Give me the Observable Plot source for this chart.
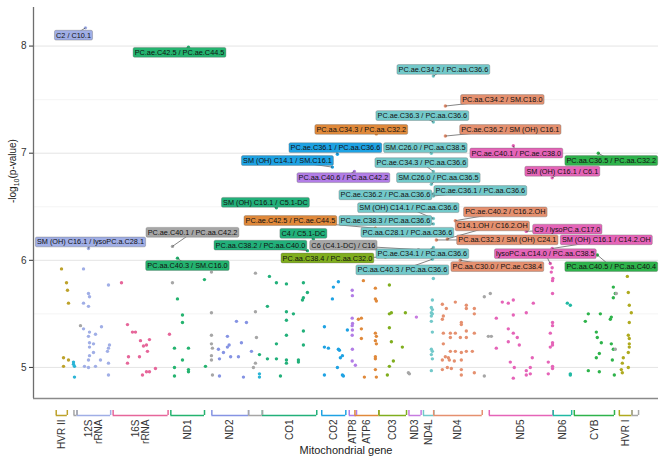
<!DOCTYPE html>
<html><head><meta charset="utf-8">
<script src="https://cdn.jsdelivr.net/npm/d3@7"></script>
<script src="https://cdn.jsdelivr.net/npm/@observablehq/plot@0.6"></script>
<style>body{margin:0;background:#fff} svg{display:block;font-family:"Liberation Sans",Arial,sans-serif}</style>
</head><body><div id="chart"></div>
<script>
// ---- gene map (mitochondrial position) ----
const geneKeys   = ["HVR II","12S","16S","ND1","ND2","CO1","CO2","ATP8","ATP6","CO3","ND3","ND4L","ND4","ND5","ND6","CYB","HVR I"];
const geneLabels = ["HVR II","12S\nrRNA","16S\nrRNA","ND1","ND2","CO1","CO2","ATP8","ATP6","CO3","ND3","ND4L","ND4","ND5","ND6","CYB","HVR I"];
const geneStart  = [57,648,1671,3307,4470,5904,7586,8366,8527,9207,10059,10470,10760,12337,14149,14747,16024];
const geneEnd    = [372,1601,3229,4262,5511,7445,8269,8572,9207,9990,10404,10766,12137,14148,14673,15887,16383];
const otherStart = [560,5512,16384];
const otherEnd   = [647,5903,16569];

// ---- colour categories ----
const colorKeys = ["HVR II","tRNA-F","12S","16S","ND1","ND2","CO1","CO2","ATP8","ATP6","CO3","ND3","ND4L","ND4","ND5","ND6","CYB","HVR I","other"];
const colorVals = ["#BDA22B","#2BB4D6","#A0AEE6","#E6669A","#24B36F","#8593E3","#22B07A","#1EA2E3","#B27DE6","#E0893A","#80AE1E","#C77CE0","#73C9CA","#E5906F","#E564B8","#21B9A3","#2EB34B","#AFAA1F","#A6A6A6"];

// ---- points [position, -log10 p] ----
const hvr2Pts = [[207,5.92],[349,5.79],[377,5.72],[405,5.60],[264,5.09],[405,5.07],[264,5.01]];
const trnaFPts = [[547,5.05],[547,5.03],[575,5.01],[575,4.91],[5820,4.94],[5820,4.91]];
const s12Pts = [[831,5.92],[972,5.69],[1001,5.66],[1539,5.77],[831,5.60],[972,5.57],[831,5.36],[1001,5.33],[972,5.29],[1171,5.31],[1341,5.38],[1001,5.23],[1114,5.22],[1001,5.19],[1114,5.14],[1001,5.11],[1312,5.07],[972,5.07],[859,5.01],[972,5.00],[1171,5.01],[1511,5.15],[1539,5.18],[1567,5.21],[1539,5.04],[1539,4.93]];
const s16Pts = [[1908,5.79],[2078,5.40],[2219,5.33],[2304,5.33],[2446,5.25],[2701,5.26],[2616,5.21],[2531,5.20],[2645,5.15],[2106,5.10],[2418,5.10],[2078,5.04],[2616,4.96],[2701,4.96],[2503,4.93],[2871,4.99],[3268,5.31]];
const nd1Pts = [[4260,5.82],[3495,5.64],[3637,5.49],[3637,5.42],[3410,5.18],[3807,5.18],[3637,5.07],[3410,5.00],[3807,4.98],[3807,4.96],[3410,4.92],[4289,5.01]];
const nd2Pts = [[4912,5.29],[4657,5.17],[4799,5.14],[4912,5.19],[4960,5.21],[5003,5.10],[5224,5.10],[5309,5.23],[5168,5.43],[5451,5.42],[5593,5.15],[4686,5.08],[4686,4.92],[5366,4.91]];
const co1Pts = [[6103,5.85],[6301,5.79],[6585,5.78],[7066,5.79],[7180,5.70],[7066,5.65],[7040,5.63],[6046,5.57],[6585,5.52],[6783,5.50],[6585,5.44],[7066,5.34],[6585,5.30],[6301,5.22],[7066,5.21],[5820,5.12],[6046,5.08],[6301,5.08],[6585,5.07],[6585,5.04],[6925,5.07],[6925,5.05],[6415,4.92]];
const co2Pts = [[7917,5.75],[7888,5.64],[8058,5.80],[7662,5.38],[7662,5.19],[7775,5.18],[8058,5.17],[7662,4.93],[8030,5.00],[8313,5.35],[8087,5.16],[8172,5.11],[8115,5.09],[8172,4.93],[8200,4.92]];
const atp8Pts = [[8450,5.72],[8455,5.67],[8450,5.46],[8460,5.41],[8450,5.39],[8455,5.35],[8450,5.30],[8455,5.17],[8450,5.06],[8540,5.02]];
const atp6Pts = [[8767,5.81],[9107,5.74],[9107,5.64],[9135,5.62],[8625,5.45],[8710,5.46],[8710,5.36],[8710,5.27],[9107,5.32],[9135,5.29],[9107,5.25],[9135,5.22],[9107,5.10],[9107,5.08],[9107,4.98],[8795,4.91],[9135,4.91]];
const co3Pts = [[9504,5.77],[9504,5.50],[9561,5.51],[9504,5.37],[9561,5.24],[9872,5.19],[9617,5.06],[9504,5.01],[9447,4.93],[9958,5.51]];
const nd3Pts = [[10270,5.47]];
const nd4lPts = [[10751,5.83],[10723,5.63],[10694,5.56],[10723,5.54],[10694,5.51],[10723,5.50],[10694,5.48],[10694,5.43],[10723,5.33],[10694,5.17],[10723,5.15],[10694,5.12],[10723,5.08],[10694,4.97]];
const nd4Pts = [[11006,5.59],[11119,5.55],[11034,5.48],[11006,5.45],[11374,5.61],[11686,5.58],[11686,5.55],[11913,5.55],[11913,5.50],[11544,5.42],[11544,5.40],[11034,5.32],[11233,5.32],[11374,5.32],[11686,5.34],[11913,5.32],[11034,5.22],[11233,5.28],[11516,5.28],[11686,5.28],[11544,5.14],[11233,5.15],[11374,5.15],[11686,5.15],[11856,5.15],[11091,5.10],[11176,5.09],[11204,5.07],[11346,5.06],[11544,5.07],[11006,5.07],[11147,5.00],[11006,4.98],[11261,4.99],[11544,4.98],[11544,4.93],[11913,4.95]];
const nd5Pts = [[12706,5.61],[12876,5.60],[13018,5.63],[13585,5.60],[12536,5.46],[13018,5.49],[13386,5.51],[12876,5.36],[13018,5.32],[12876,5.24],[13131,5.28],[13188,5.21],[12536,5.18],[12933,5.05],[13046,5.00],[13018,4.90],[13386,4.97],[13500,5.00],[13556,5.09],[13386,4.93],[13500,4.94],[14067,5.19],[14130,5.23],[14130,5.21],[14130,5.42],[14130,5.39],[14130,5.69],[14067,5.32],[14010,5.05],[14130,5.01],[14130,4.99],[14010,4.94],[14130,5.81],[14120,5.93],[14095,5.89],[14140,5.83]];
const nd6Pts = [[14550,5.60],[14635,5.58],[14635,4.94],[14635,4.93]];
const cybPts = [[15145,5.50],[15486,5.50],[15060,5.43],[15372,5.33],[15400,5.28],[15514,5.23],[15457,5.13],[15372,5.09],[15145,4.97],[15457,4.96],[15826,5.07],[15769,5.45],[15797,5.47],[15854,5.65],[15854,5.75],[15797,5.22],[15882,4.93],[15854,5.17],[15910,5.69]];
const hvr1Pts = [[16251,5.85],[16279,5.70],[16307,5.58],[16364,5.51],[16307,5.42],[16279,5.30],[16307,5.27],[16307,5.22],[16307,5.19],[16279,5.14],[16137,5.09],[16109,5.04],[16279,5.00],[16081,4.98],[16109,4.95]];
const otherPts = [[745,5.39],[3353,5.79],[4459,5.89],[4459,5.51],[4459,5.30],[4459,5.22],[4487,5.18],[4459,5.11],[4459,5.07],[4487,4.93],[5706,5.88],[5706,5.52],[5735,5.28],[5706,5.04],[5649,5.00],[10043,4.95],[10072,4.94],[12196,5.66],[12366,5.69],[12196,4.92],[12310,5.29],[12395,5.29],[15939,5.69],[15910,5.17]];

// ---- labelled associations ----
const labelText = ["C2 / C10.1","PC.ae.C42.5 / PC.ae.C44.5","PC.ae.C34.2 / PC.aa.C36.6","PC.aa.C34.2 / SM.C18.0","PC.ae.C36.3 / PC.aa.C36.6","PC.aa.C34.3 / PC.aa.C32.2","PC.ae.C36.2 / SM (OH) C16.1","PC.ae.C36.1 / PC.aa.C36.6","SM.C26.0 / PC.aa.C38.5","PC.ae.C40.1 / PC.ae.C38.0","PC.aa.C36.5 / PC.aa.C32.2","SM (OH) C14.1 / SM.C16.1","PC.ae.C34.3 / PC.aa.C36.6","SM (OH) C16.1 / C6.1","PC.aa.C40.6 / PC.aa.C42.2","SM.C26.0 / PC.aa.C36.5","PC.ae.C36.2 / PC.aa.C36.6","PC.ae.C36.1 / PC.aa.C36.6","SM (OH) C16.1 / C5.1-DC","SM (OH) C14.1 / PC.aa.C36.6","PC.ae.C40.2 / C16.2.OH","PC.ae.C42.5 / PC.ae.C44.5","PC.ae.C38.3 / PC.aa.C36.6","PC.aa.C28.1 / PC.aa.C36.6","C14.1.OH / C16.2.OH","C9 / lysoPC.a.C17.0","C4 / C5.1-DC","PC.ae.C40.1 / PC.aa.C42.2","SM (OH) C16.1 / lysoPC.a.C28.1","PC.aa.C38.2 / PC.aa.C40.0","C6 (C4.1-DC) / C16","PC.aa.C32.3 / SM (OH) C24.1","SM (OH) C16.1 / C14.2.OH","PC.ae.C34.1 / PC.aa.C36.6","lysoPC.a.C14.0 / PC.aa.C38.5","PC.aa.C38.4 / PC.aa.C32.0","PC.aa.C40.3 / SM.C16.0","PC.aa.C40.5 / PC.aa.C40.4","PC.aa.C30.0 / PC.ae.C38.4","PC.aa.C40.3 / PC.aa.C36.6"];
const labelGene = ["12S","ND1","ND4L","ND4","ND4L","ATP6","ND4","CO2","ND4L","ND5","CYB","CO2","ND4L","ND5","ATP8","ND4L","ND4L","ND4L","CO1","ND4L","ND4","ATP6","ND4L","ND4L","ND4","ND5","CO1","other","12S","CO1","other","ND4","ND5","ND4L","ND5","CO3","ND1","CYB","ND4","ND4L"];
const labelPos  = [887,3807,10751,11091,10751,9134,11091,8030,10694,13018,15428,7888,10751,14120,8512,10694,10751,10751,6301,10751,11374,9107,10751,10751,11147,13386,7350,3353,972,7180,10327,10836,14120,10751,14067,9390,3495,15400,11516,10723];
const labelP    = [8.17,7.99,7.72,7.44,7.29,7.18,7.16,6.99,7.00,7.07,7.00,6.87,6.83,6.77,6.83,6.71,6.62,6.60,6.49,6.39,6.37,6.30,6.34,6.28,6.20,6.27,6.20,6.13,6.11,6.09,6.10,6.19,6.11,6.12,5.97,6.03,6.02,6.05,6.00,6.01];
const labelX    = [547,3553,11035,12707,10439,8707,12934,7973,10524,13104,15796,6613,10411,14408,8200,10893,9391,12083,5989,10042,12792,6698,9391,10014,12423,14550,7066,3920,1029,5847,8200,12849,15655,10439,13926,7747,3778,15796,12565,9872];
const labelY    = [8.10,7.94,7.78,7.50,7.35,7.22,7.22,7.05,7.05,7.00,6.93,6.93,6.91,6.83,6.77,6.77,6.61,6.65,6.54,6.49,6.45,6.37,6.37,6.26,6.32,6.29,6.25,6.26,6.17,6.14,6.14,6.19,6.19,6.06,6.06,6.02,5.95,5.94,5.94,5.91];

// ---- tables ----
const ptsByGene = {"HVR II":hvr2Pts,"tRNA-F":trnaFPts,"12S":s12Pts,"16S":s16Pts,"ND1":nd1Pts,"ND2":nd2Pts,"CO1":co1Pts,"CO2":co2Pts,"ATP8":atp8Pts,"ATP6":atp6Pts,"CO3":co3Pts,"ND3":nd3Pts,"ND4L":nd4lPts,"ND4":nd4Pts,"ND5":nd5Pts,"ND6":nd6Pts,"CYB":cybPts,"HVR I":hvr1Pts,"other":otherPts};
const points = Object.entries(ptsByGene).flatMap(([g, arr]) => arr.map(([pos, p]) => ({gene: g, pos, p})));
const labels = labelText.map((t, i) => ({text: t, gene: labelGene[i], pos: labelPos[i], p: labelP[i], lx: labelX[i], ly: labelY[i]}));
const genes = geneKeys.map((k, i) => ({key: k, label: geneLabels[i], start: geneStart[i], end: geneEnd[i]}))
  .concat(otherStart.map((s, i) => ({key: "other", label: "", start: s, end: otherEnd[i]})));
const geneEnds = genes.flatMap(g => [{key: g.key, x: g.start}, {key: g.key, x: g.end}]);

const xDomain = [-587, 17135], yDomain = [4.71, 8.36];
const mt = 7, mb = 66, H = 464;
const u = (yDomain[1] - yDomain[0]) / (H - mt - mb); // data units per pixel
const barY = yDomain[0] - 17 * u, tickTop = yDomain[0] - 12 * u;
const colorOf = g => colorVals[colorKeys.indexOf(g)];

const chart = Plot.plot({
  width: 666, height: H,
  marginTop: mt, marginBottom: mb, marginLeft: 33, marginRight: 8,
  style: {fontFamily: '"Liberation Sans", Arial, sans-serif', background: "#fff"},
  x: {domain: xDomain, axis: null},
  y: {domain: yDomain},
  color: {domain: colorKeys, range: colorVals},
  marks: [
    Plot.ruleY([5.5, 6.5, 7.5], {stroke: "#f1f1f1", strokeWidth: 0.8}),
    Plot.ruleY([5, 6, 7, 8], {stroke: "#e4e4e4", strokeWidth: 1}),
    Plot.ruleX([xDomain[0]], {stroke: "#6e6e6e", strokeWidth: 1.3}),
    Plot.ruleY([yDomain[0]], {stroke: "#8a8a8a", strokeWidth: 1.3}),
    Plot.axisY({ticks: [5, 6, 7, 8], tickFormat: d => String(d), tickSize: 4, tickPadding: 3, fontSize: 10, label: null, stroke: "#333", fill: "#333"}),
    Plot.dot(points, {x: "pos", y: "p", fill: "gene", r: 1.7}),
    Plot.dot(labels, {x: "pos", y: "p", fill: "gene", r: 1.7}),
    Plot.link(labels, {x1: "pos", y1: "p", x2: "lx", y2: "ly", stroke: "#333", strokeWidth: 0.6}),
    Plot.text(labels, {x: "lx", y: "ly", text: "text", fontSize: 7.3, fill: "#111", ariaDescription: "repel-labels"}),
    // gene map below the axis
    Plot.ruleY(genes, {y: () => barY, x1: "start", x2: "end", stroke: "key", strokeWidth: 1.5}),
    Plot.ruleX(geneEnds, {x: "x", y1: barY, y2: tickTop, stroke: "key", strokeWidth: 1.5}),
    Plot.text(genes.filter(g => g.label), {x: g => (g.start + g.end) / 2, text: "label", frameAnchor: "bottom", dy: 21, rotate: -90, textAnchor: "end", lineAnchor: "middle", fontSize: 10, fill: "#333"}),
    Plot.text(["Mitochondrial gene"], {frameAnchor: "bottom", dy: 55, fontSize: 11, fill: "#222"}),
    Plot.text(["-log10(p-value)"], {frameAnchor: "left", dx: -21, rotate: -90, fontSize: 10, fill: "#222"})
  ]
});
document.getElementById("chart").appendChild(chart);

// label boxes (ggrepel style)
const ns = "http://www.w3.org/2000/svg";
let labTexts = Array.from(chart.querySelectorAll('g[aria-description="repel-labels"] text'));
if (labTexts.length !== labels.length) {
  const set = new Set(labelText);
  labTexts = Array.from(chart.querySelectorAll("text")).filter(t => set.has(t.textContent));
}
labTexts.forEach((t, i) => {
  const b = t.getBBox();
  const r = document.createElementNS(ns, "rect");
  r.setAttribute("x", b.x - 1.6); r.setAttribute("y", b.y - 0.4);
  r.setAttribute("width", b.width + 3.2); r.setAttribute("height", b.height + 0.8);
  r.setAttribute("rx", 1.5);
  r.setAttribute("fill", colorOf(labels[i].gene));
  r.setAttribute("stroke", "#666"); r.setAttribute("stroke-width", 0.35);
  if (t.getAttribute("transform")) r.setAttribute("transform", t.getAttribute("transform"));
  t.parentNode.insertBefore(r, t);
});
// subscript in y label
Array.from(chart.querySelectorAll("text")).filter(t => t.textContent === "-log10(p-value)").forEach(t => {
  t.textContent = "";
  const a = document.createElementNS(ns, "tspan"); a.textContent = "-log";
  const s = document.createElementNS(ns, "tspan"); s.textContent = "10"; s.setAttribute("font-size", 7); s.setAttribute("dy", 3);
  const c = document.createElementNS(ns, "tspan"); c.textContent = "(p-value)"; c.setAttribute("dy", -3);
  t.append(a, s, c);
});
</script></body></html>
